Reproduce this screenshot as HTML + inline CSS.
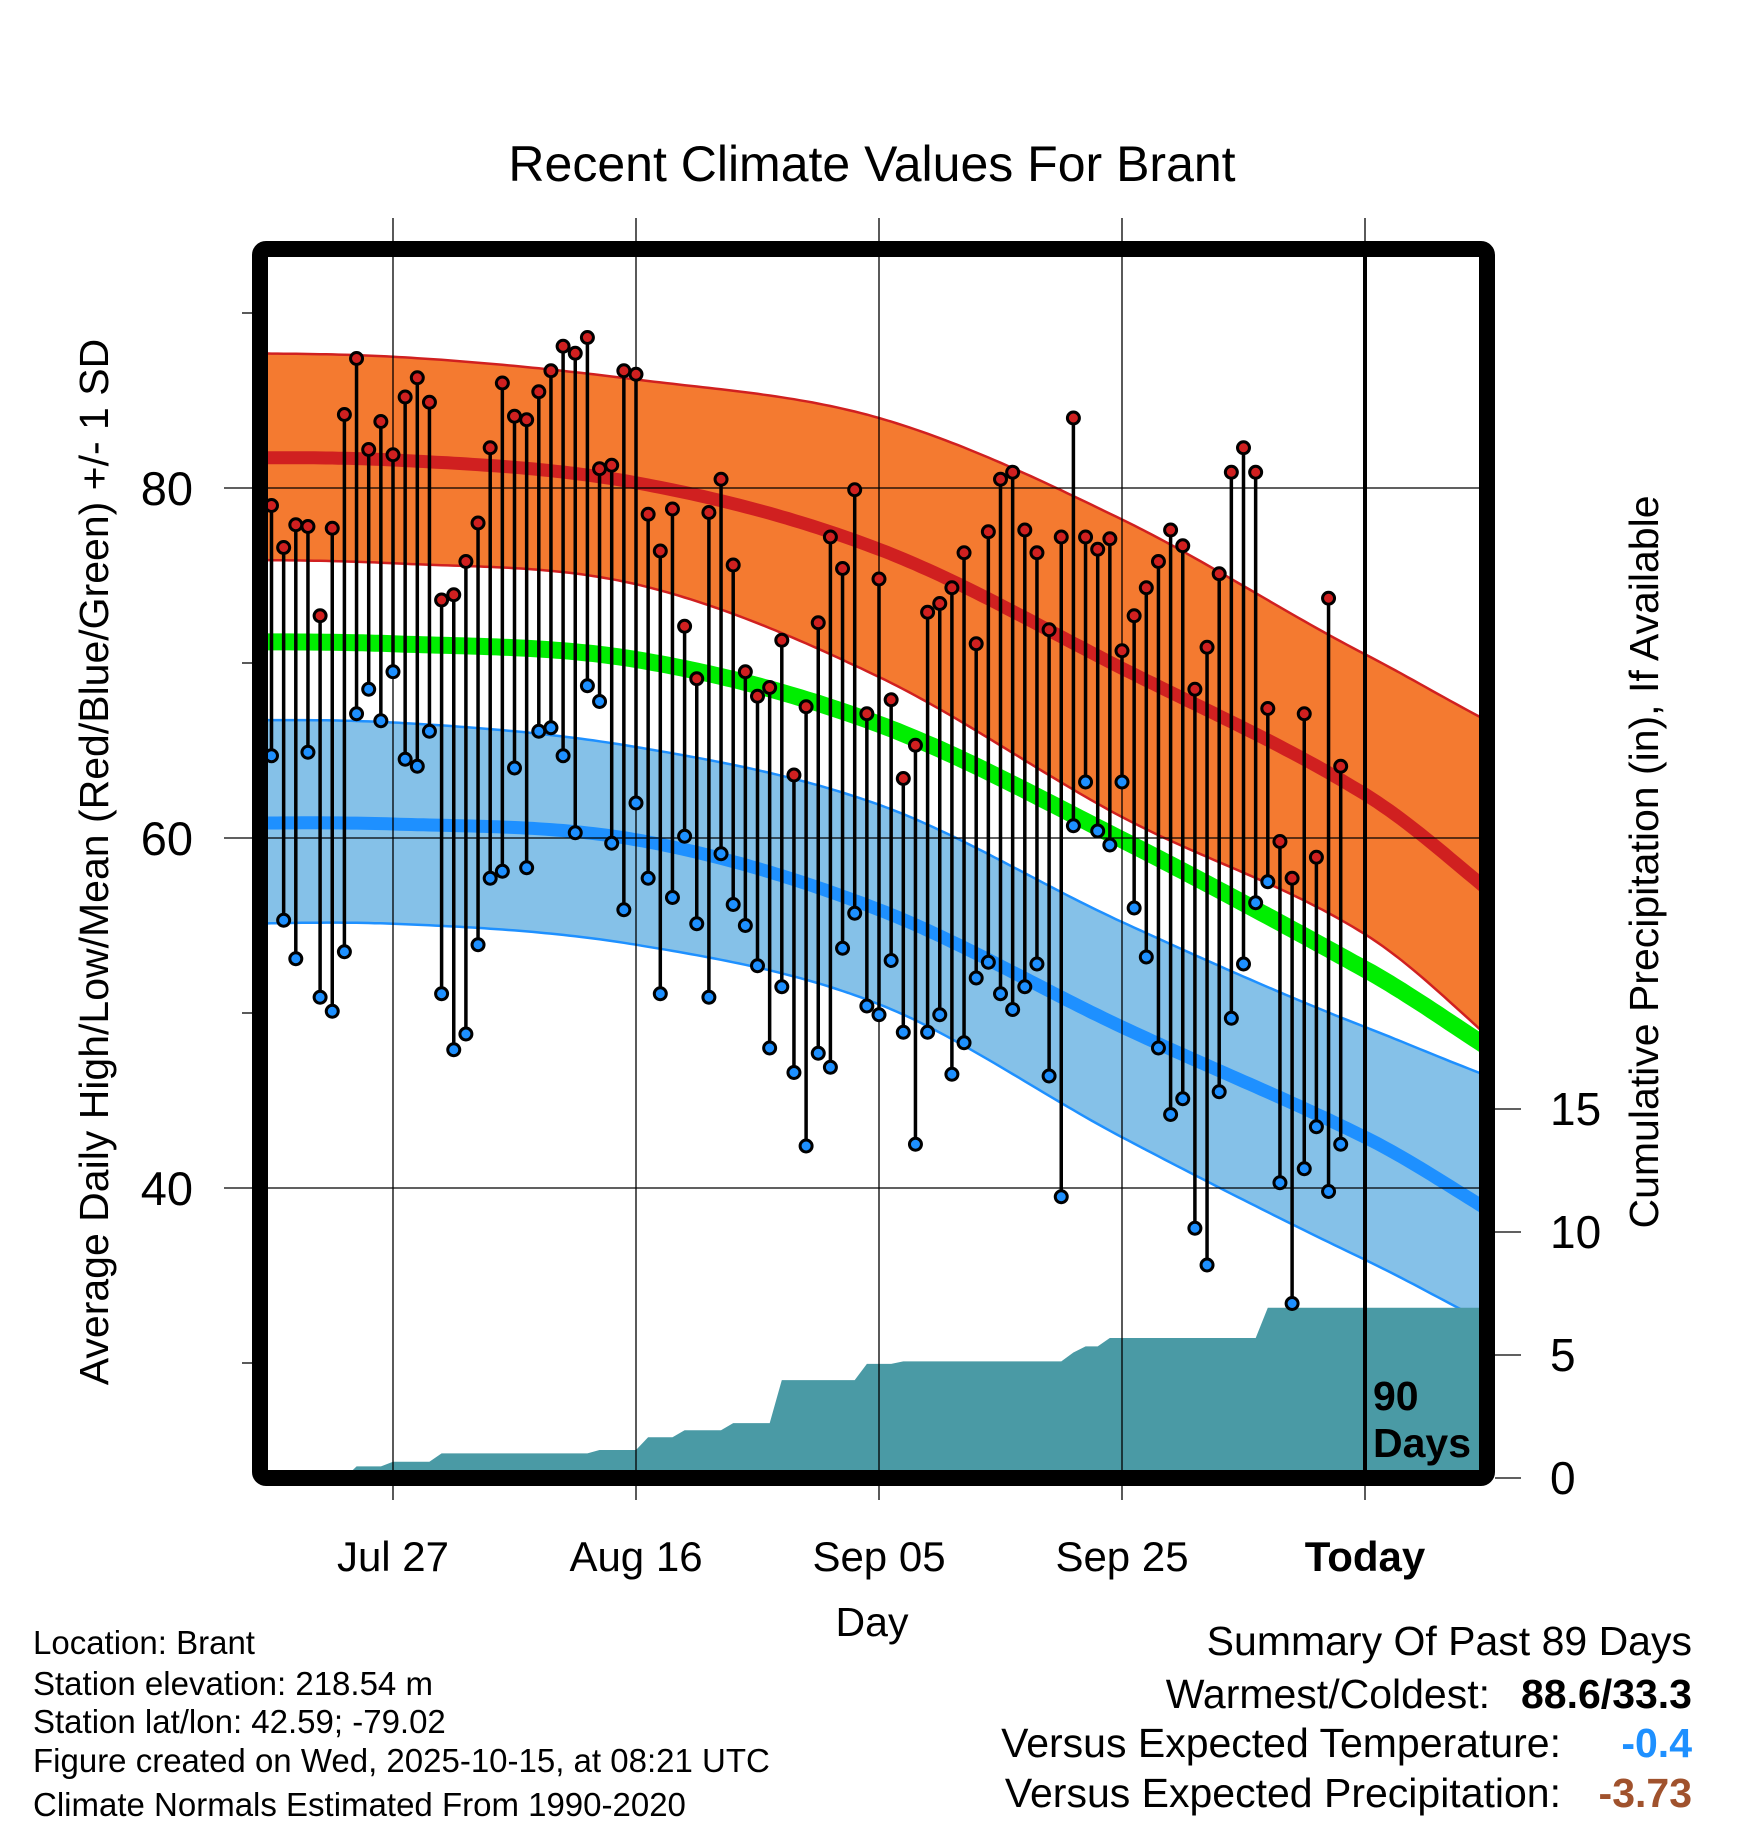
<!DOCTYPE html>
<html><head><meta charset="utf-8"><style>
body{margin:0;background:#fff}
svg{display:block;font-family:"Liberation Sans",sans-serif}
</style></head><body>
<svg id="chart" width="1748" height="1828" viewBox="0 0 1748 1828" xmlns="http://www.w3.org/2000/svg">
<text x="872" y="181" font-size="50" text-anchor="middle">Recent Climate Values For Brant</text>
<defs><clipPath id="pc"><rect x="268" y="257" width="1211" height="1213"/></clipPath></defs>
<g id="bands" clip-path="url(#pc)"></g>
<g id="grid"></g>
<g id="marks"></g>
<rect x="260" y="249" width="1227" height="1229" rx="6" fill="none" stroke="#000" stroke-width="16"/>
<g id="labels"></g>
<text x="1373" y="1410" font-size="41" font-weight="bold">90</text>
<text x="1373" y="1457" font-size="41" font-weight="bold">Days</text>
<text x="872" y="1636" font-size="41" text-anchor="middle">Day</text>
<text transform="translate(108,862) rotate(-90)" font-size="41" text-anchor="middle">Average Daily High/Low/Mean (Red/Blue/Green) +/- 1 SD</text>
<text transform="translate(1658,862) rotate(-90)" font-size="41" text-anchor="middle">Cumulative Precipitation (in), If Available</text>
<g font-size="33">
<text x="33" y="1654">Location: Brant</text>
<text x="33" y="1695">Station elevation: 218.54 m</text>
<text x="33" y="1733">Station lat/lon: 42.59; -79.02</text>
<text x="33" y="1772">Figure created on Wed, 2025-10-15, at 08:21 UTC</text>
<text x="33" y="1816">Climate Normals Estimated From 1990-2020</text>
</g>
<g font-size="41" text-anchor="end">
<text x="1692" y="1655">Summary Of Past 89 Days</text>
<text x="1490" y="1708">Warmest/Coldest:</text>
<text x="1692" y="1708" font-weight="bold">88.6/33.3</text>
<text x="1561" y="1757">Versus Expected Temperature:</text>
<text x="1692" y="1757" font-weight="bold" fill="#1e90ff">-0.4</text>
<text x="1561" y="1807">Versus Expected Precipitation:</text>
<text x="1692" y="1807" font-weight="bold" fill="#a0522d">-3.73</text>
</g>
</svg>
<script>
const highs=[79.0,76.6,77.9,77.8,72.7,77.7,84.2,87.4,82.2,83.8,81.9,85.2,86.3,84.9,73.6,73.9,75.8,78.0,82.3,86.0,84.1,83.9,85.5,86.7,88.1,87.7,88.6,81.1,81.3,86.7,86.5,78.5,76.4,78.8,72.1,69.1,78.6,80.5,75.6,69.5,68.1,68.6,71.3,63.6,67.5,72.3,77.2,75.4,79.9,67.1,74.8,67.9,63.4,65.3,72.9,73.4,74.3,76.3,71.1,77.5,80.5,80.9,77.6,76.3,71.9,77.2,84.0,77.2,76.5,77.1,70.7,72.7,74.3,75.8,77.6,76.7,68.5,70.9,75.1,80.9,82.3,80.9,67.4,59.8,57.7,67.1,58.9,73.7,64.1];
const lows=[64.7,55.3,53.1,64.9,50.9,50.1,53.5,67.1,68.5,66.7,69.5,64.5,64.1,66.1,51.1,47.9,48.8,53.9,57.7,58.1,64.0,58.3,66.1,66.3,64.7,60.3,68.7,67.8,59.7,55.9,62.0,57.7,51.1,56.6,60.1,55.1,50.9,59.1,56.2,55.0,52.7,48.0,51.5,46.6,42.4,47.7,46.9,53.7,55.7,50.4,49.9,53.0,48.9,42.5,48.9,49.9,46.5,48.3,52.0,52.9,51.1,50.2,51.5,52.8,46.4,39.5,60.7,63.2,60.4,59.6,63.2,56.0,53.2,48.0,44.2,45.1,37.7,35.6,45.5,49.7,52.8,56.3,57.5,40.3,33.4,41.1,43.5,39.8,42.5];
const precip=[0,0,0,0,0,0,0,0.47,0.47,0.47,0.66,0.66,0.66,0.66,1,1,1,1,1,1,1,1,1,1,1,1,1,1.14,1.14,1.14,1.14,1.66,1.66,1.66,1.94,1.94,1.94,1.94,2.23,2.23,2.23,2.23,3.98,3.98,3.98,3.98,3.98,3.98,3.98,4.64,4.64,4.64,4.74,4.74,4.74,4.74,4.74,4.74,4.74,4.74,4.74,4.74,4.74,4.74,4.74,4.74,5.1,5.35,5.35,5.69,5.69,5.69,5.69,5.69,5.69,5.69,5.69,5.69,5.69,5.69,5.69,5.69,6.92,6.92,6.92,6.92,6.92,6.92,6.92];
const normDays=[-10,10,30,50,70,90,110];
const normHigh=[81.7,81.6,80.3,76.5,69.7,62.5,52.6];
const highUpper=[87.7,87.5,86.2,84.0,78.2,70.5,63.9];
const highLower=[75.9,75.7,74.5,69.2,61.2,54.5,43.8];
const normMean=[71.2,71.1,70.2,66.5,59.9,52.5,44.6];
const lowUpper=[66.7,66.6,65.2,61.9,55.2,49.2,44.4];
const normLow=[60.8,60.8,59.9,55.9,49.2,42.9,35.5];
const lowLower=[55.0,55.1,53.9,50.5,42.9,35.9,29.6];
const xTickDays=[10,30,50,70,90];
const xTickLabels=["Jul 27","Aug 16","Sep 05","Sep 25","Today"];
const yTicks=[40,60,80];
const yMinor=[30,50,70,90];
const pTicks=[0,5,10,15];

const NS="http://www.w3.org/2000/svg";
const X=d=>393+(d-10)*12.15;
const Y=t=>488+(80-t)*17.5;
const P=p=>1478-p*24.6;
const PL=268,PR=1479,PT=257,PB=1470;
function mk(parent,tag,attrs){const e=document.createElementNS(NS,tag);for(const k in attrs)e.setAttribute(k,attrs[k]);parent.appendChild(e);return e;}
function interp(ys,d){let i=0;while(i<normDays.length-2&&d>normDays[i+1])i++;
 const p0=ys[Math.max(i-1,0)],p1=ys[i],p2=ys[i+1],p3=ys[Math.min(i+2,ys.length-1)];
 const t=(d-normDays[i])/(normDays[i+1]-normDays[i]);
 return 0.5*((2*p1)+(-p0+p2)*t+(2*p0-5*p1+4*p2-p3)*t*t+(-p0+3*p1-3*p2+p3)*t*t*t);}
function curve(ys){const pts=[];for(let d=-1;d<=100;d+=0.5)pts.push([X(d),Y(interp(ys,d))]);return pts;}
const ps=a=>a.map(p=>p[0].toFixed(1)+","+p[1].toFixed(1)).join(" ");
const bands=document.getElementById('bands');
function band(up,lo,fill,edge,name){const u=curve(up),l=curve(lo).reverse();
 const e=mk(bands,'polygon',{points:ps(u.concat(l)),fill:fill});
 
 
 const a=mk(bands,'polyline',{points:ps(u),fill:'none',stroke:edge,'stroke-width':2.5});
 
 
 const b=mk(bands,'polyline',{points:ps(curve(lo)),fill:'none',stroke:edge,'stroke-width':2.5});
 
 }
function line(ys,color,w,name){const e=mk(bands,'polyline',{points:ps(curve(ys)),fill:'none',stroke:color,'stroke-width':w});
 
 }
band(lowUpper,lowLower,'#85c1e8','#1e90ff','low-sd-band');
line(normLow,'#1e90ff',13,'normal-low-line');
line(normMean,'#00ee00',17,'normal-mean-line');
band(highUpper,highLower,'#f47a30','#d02020','high-sd-band');
line(normHigh,'#d02020',13,'normal-high-line');
const pp=[[PL,P(precip[0])]];precip.forEach((v,i)=>pp.push([X(i),P(v)]));pp.push([PR,P(precip[precip.length-1])],[PR,PB+20],[PL,PB+20]);
const pa=mk(bands,'polygon',{points:ps(pp),fill:'#4a9aa5'});


const grid=document.getElementById('grid');
xTickDays.forEach((d,i)=>{const today=i===xTickDays.length-1;
 const g=mk(grid,'line',{x1:X(d),x2:X(d),y1:today?PT:218,y2:today?PB:1500,stroke:'#000','stroke-width':today?4:1.3});
 
 
 if(today){mk(grid,'line',{x1:X(d),x2:X(d),y1:218,y2:PT,stroke:'#000','stroke-width':1.3});mk(grid,'line',{x1:X(d),x2:X(d),y1:PB,y2:1500,stroke:'#000','stroke-width':1.3});}
});
yTicks.forEach(t=>{const g=mk(grid,'line',{x1:224,x2:PR,y1:Y(t),y2:Y(t),stroke:'#000','stroke-width':1.3});
 
 });
yMinor.forEach(t=>{if(Y(t)>PT&&Y(t)<PB){const g=mk(grid,'line',{x1:242,x2:252,y1:Y(t),y2:Y(t),stroke:'#000','stroke-width':1.3});
 
 }});
pTicks.forEach(p=>{const g=mk(grid,'line',{x1:1495,x2:1521,y1:P(p),y2:P(p),stroke:'#000','stroke-width':1.3});
 
 });
const marks=document.getElementById('marks');
highs.forEach((h,i)=>{const s=mk(marks,'line',{x1:X(i),x2:X(i),y1:Y(h),y2:Y(lows[i]),stroke:'#000','stroke-width':3.5});
 
 });
highs.forEach((h,i)=>{const c=mk(marks,'circle',{cx:X(i),cy:Y(h),r:6,fill:'#d02020',stroke:'#000','stroke-width':3});
 
 
 const c2=mk(marks,'circle',{cx:X(i),cy:Y(lows[i]),r:6,fill:'#1e90ff',stroke:'#000','stroke-width':3});
 
 });
const labels=document.getElementById('labels');
xTickDays.forEach((d,i)=>{const t=mk(labels,'text',{x:X(d),y:1571,'font-size':42,'text-anchor':'middle','font-weight':i===xTickDays.length-1?'bold':'normal'});t.textContent=xTickLabels[i];
 
 });
yTicks.forEach(v=>{const t=mk(labels,'text',{x:193,y:Y(v)+17,'font-size':47,'text-anchor':'end'});t.textContent=v;
 
 });
pTicks.forEach(v=>{const t=mk(labels,'text',{x:1550,y:P(v)+16,'font-size':46});t.textContent=v;
 
 });
</script>
</body></html>
